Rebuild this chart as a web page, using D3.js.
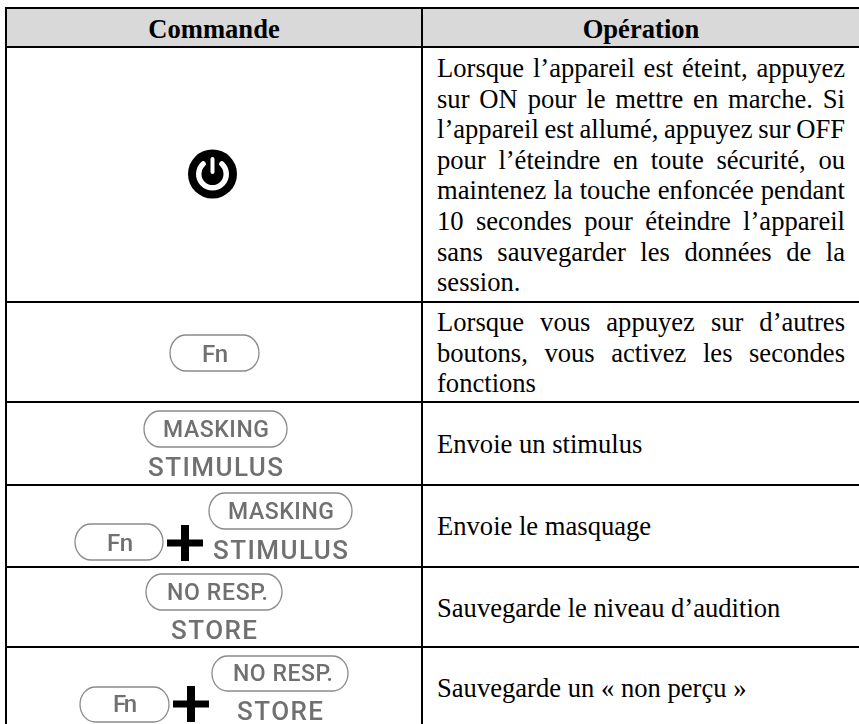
<!DOCTYPE html>
<html>
<head>
<meta charset="utf-8">
<script src="https://cdnjs.cloudflare.com/ajax/libs/d3/7.8.5/d3.min.js"></script>
<style>
  html, body { margin: 0; padding: 0; background: #fff; }
  svg { display: block; }
</style>
</head>
<body>
<div id="table"></div>
<script>
// table content
var headers = ["Commande", "Opération"];
var operations = [
  ["Lorsque l’appareil est éteint, appuyez", "sur ON pour le mettre en marche. Si", "l’appareil est allumé, appuyez sur OFF",
   "pour l’éteindre en toute sécurité, ou", "maintenez la touche enfoncée pendant", "10 secondes pour éteindre l’appareil",
   "sans sauvegarder les données de la", "session."],
  ["Lorsque vous appuyez sur d’autres", "boutons, vous activez les secondes", "fonctions"],
  ["Envoie un stimulus"],
  ["Envoie le masquage"],
  ["Sauvegarde le niveau d’audition"],
  ["Sauvegarde un « non perçu »"]
];
var buttonLabels = ["Fn", "MASKING", "STIMULUS", "NO RESP.", "STORE"];

var width = 859, height = 724;

// ruled lines measured on the page
var rowLines = [8, 47, 302, 402, 485, 567, 647];
var colLines = [6, 422];
var leftText = 437, rightText = 845;

var svg = d3.select("#table").append("svg")
    .attr("width", width)
    .attr("height", height);

// the buttons are soft scans in the original
var defs = svg.append("defs");
defs.append("filter").attr("id", "soft")
    .attr("x", "-5%").attr("y", "-5%").attr("width", "110%").attr("height", "110%")
  .append("feGaussianBlur").attr("stdDeviation", 0.45);

// header band
svg.append("rect")
    .attr("x", colLines[0]).attr("y", rowLines[0])
    .attr("width", width - colLines[0]).attr("height", rowLines[1] - rowLines[0])
    .attr("fill", "#d9d9d9");

// grid lines
svg.selectAll("line.row")
  .data(rowLines)
  .enter().append("line")
    .attr("class", "row")
    .attr("x1", colLines[0] - 1).attr("x2", width)
    .attr("y1", function (d) { return d; })
    .attr("y2", function (d) { return d; })
    .attr("stroke", "#000").attr("stroke-width", 2);
svg.selectAll("line.col")
  .data(colLines)
  .enter().append("line")
    .attr("class", "col")
    .attr("x1", function (d) { return d; })
    .attr("x2", function (d) { return d; })
    .attr("y1", rowLines[0] - 1).attr("y2", height)
    .attr("stroke", "#000").attr("stroke-width", 2);

// header text
var headerX = [214, 641];
svg.selectAll("text.head")
  .data(headers)
  .enter().append("text")
    .attr("class", "head")
    .attr("x", function (d, i) { return headerX[i]; })
    .attr("y", 37.5)
    .attr("text-anchor", "middle")
    .attr("font-family", "Liberation Serif")
    .attr("font-weight", "bold")
    .attr("font-size", 26.6)
    .attr("fill", "#000")
    .text(function (d) { return d; });

// operation text, first baseline of each cell then 30.6px per line
var firstBaseline = [77, 331, 453, 535, 617, 697];
operations.forEach(function (lines, r) {
  lines.forEach(function (line, i) {
    var t = svg.append("text")
        .attr("x", leftText)
        .attr("y", firstBaseline[r] + i * 30.6)
        .attr("font-family", "Liberation Serif")
        .attr("font-size", 26.6)
        .attr("fill", "#000")
        .text(line);
    // justify every line but the last of a paragraph
    if (i < lines.length - 1) {
      var gaps = line.split(" ").length - 1;
      var extra = (rightText - leftText - t.node().getComputedTextLength()) / gaps;
      t.attr("word-spacing", extra);
    }
  });
});

// power icon
var power = svg.append("g").attr("transform", "translate(212.5,174)");
power.append("circle").attr("r", 24.5).attr("fill", "#000");
power.append("path")
    .attr("d", d3.arc()
      .innerRadius(11).outerRadius(16.5)
      .startAngle(0.55).endAngle(2 * Math.PI - 0.55)
      .cornerRadius(2.5)())
    .attr("fill", "#fff");
power.append("rect").attr("x", -2).attr("y", -17).attr("width", 4).attr("height", 17).attr("rx", 2).attr("fill", "#fff");

// button drawing helpers
var buttons = svg.append("g").attr("filter", "url(#soft)");
function pill(x0, x1, y0, y1) {
  buttons.append("rect")
      .attr("x", x0).attr("y", y0)
      .attr("width", x1 - x0).attr("height", y1 - y0)
      .attr("rx", (y1 - y0) / 2 - 2).attr("ry", (y1 - y0) / 2)
      .attr("fill", "#fff")
      .attr("stroke", "#8a8a8a")
      .attr("stroke-width", 1.3);
}
function label(txt, x0, x1, baseline, size) {
  buttons.append("text")
      .attr("x", x0).attr("y", baseline)
      .attr("textLength", x1 - x0)
      .attr("lengthAdjust", "spacing")
      .attr("font-family", "Roboto")
      .attr("font-weight", 500)
      .attr("font-size", size)
      .attr("fill", "#707070")
      .text(txt);
}
function plus(cx, cy) {
  svg.append("rect").attr("x", cx - 18).attr("y", cy - 3.5).attr("width", 36).attr("height", 7).attr("fill", "#000");
  svg.append("rect").attr("x", cx - 4).attr("y", cy - 18).attr("width", 8).attr("height", 36).attr("fill", "#000");
}

// row 2
pill(170, 259, 335, 371);
label(buttonLabels[0], 202, 228, 362, 24);
// row 3
pill(144, 287, 411, 447);
label(buttonLabels[1], 163, 269, 437, 23);
label(buttonLabels[2], 148, 283, 476, 26);
// row 4
pill(75, 163, 524, 560);
label(buttonLabels[0], 107, 133, 551, 24);
plus(185, 543);
pill(209, 352, 493, 529);
label(buttonLabels[1], 228, 334, 519, 23);
label(buttonLabels[2], 213, 348, 559, 26);
// row 5
pill(146, 282, 574, 610);
label(buttonLabels[3], 167, 268, 600, 23);
label(buttonLabels[4], 171, 257, 639, 26);
// row 6
pill(80, 169, 687, 722);
label(buttonLabels[0], 113, 137, 712, 24);
plus(191, 704);
pill(212, 348, 656, 691);
label(buttonLabels[3], 233, 333, 681, 23);
label(buttonLabels[4], 237, 323, 720, 26);
</script>
</body>
</html>
